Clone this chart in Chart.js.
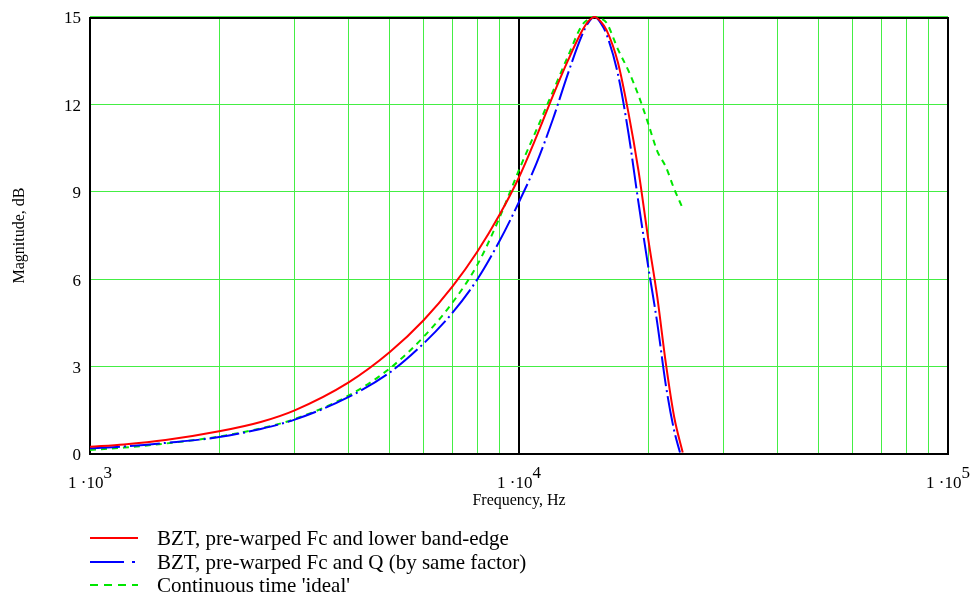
<!DOCTYPE html>
<html>
<head>
<meta charset="utf-8">
<script src="https://cdn.jsdelivr.net/npm/chart.js@4.4.1/dist/chart.umd.min.js"></script>
<style>
html,body{margin:0;padding:0;background:#fff;}
#wrap{position:relative;width:974px;height:600px;}
</style>
</head>
<body>
<div id="wrap"><canvas id="c" width="974" height="600"></canvas></div>
<script>
// ---- data ----
const freqHz = [1000,1200,1500,2000,2500,3000,4000,5000,6000,7000,8000,9000,10000,11000,12000,13000,14000,14500,15000,15500,16000,17000,18000,19000,20000,21000,22000,23000];
const redDb   = [0.25,0.33,0.48,0.78,1.1,1.5,2.45,3.5,4.6,5.75,6.95,8.2,9.5,10.92,12.3,13.5,14.5,14.85,15.0,14.85,14.55,13.45,11.7,9.7,7.4,5.4,3.1,1.27];
const blueDb  = [0.2,0.26,0.38,0.58,0.86,1.18,1.95,2.8,3.8,4.85,6.0,7.3,8.65,10.0,11.5,13.05,14.35,14.8,15.0,14.8,14.4,13.05,11.0,8.6,6.45,4.5,2.35,0.8];
const greenDb = [0.14,0.22,0.36,0.6,0.88,1.2,2.0,2.94,4.03,5.2,6.5,8.1,9.75,11.15,12.45,13.65,14.7,14.92,15.0,14.95,14.8,13.9,13.15,12.3,11.35,10.4,9.85,9.1];
const redEnd   = [24080, 0.05];
const blueEnd  = [23730, 0.05];
const greenEnd = [24000, 8.48];

const xGridValues = [1000,2000,3000,4000,5000,6000,7000,8000,9000,10000,20000,30000,40000,50000,60000,70000,80000,90000,100000];
const xLabelValues = [1000,10000,100000];
const yTickValues = [0,3,6,9,12,15];

const seriesNames = [
  "BZT, pre-warped Fc and lower band-edge",
  "BZT, pre-warped Fc and Q (by same factor)",
  "Continuous time 'ideal'"
];

function pts(ys, end){
  const a = freqHz.map((f,i)=>({x:f,y:ys[i]}));
  a.push({x:end[0], y:end[1]});
  return a;
}

const SERIF = "'Liberation Serif','DejaVu Serif',serif";
const RED = '#ff0000', BLUE = '#0000ff', GREEN = '#00e600';
const DASHES = [[], [30,4,2,4], [6,5]];
const LEGEND_DASHES = [[], [34,8,3,8], [8,6]];

const frameAndLabels = {
  id: 'frameAndLabels',
  beforeDatasetsDraw(chart){
    const {ctx, chartArea:a} = chart;
    ctx.save();
    ctx.strokeStyle = '#000';
    ctx.lineWidth = 2;
    ctx.strokeRect(a.left, a.top+1, a.right-a.left, a.bottom-a.top-1);
    ctx.strokeStyle = '#44ee44';
    ctx.lineWidth = 1;
    ctx.beginPath();
    ctx.moveTo(a.left, a.top - 0.5);
    ctx.lineTo(a.right, a.top - 0.5);
    ctx.stroke();
    ctx.restore();
  },
  afterDraw(chart){
    const {ctx, chartArea:a} = chart;
    const xs = chart.scales.x, ys = chart.scales.y;
    ctx.save();
    ctx.fillStyle = '#000';
    // y tick labels
    ctx.font = '17px ' + SERIF;
    ctx.textAlign = 'right';
    ctx.textBaseline = 'middle';
    yTickValues.forEach(v=>{
      ctx.fillText(String(v), a.left - 9, ys.getPixelForValue(v) + 2);
    });
    // x tick labels with superscript exponent
    ctx.textBaseline = 'alphabetic';
    ctx.textAlign = 'left';
    xLabelValues.forEach(v=>{
      const e = Math.round(Math.log10(v));
      const base = '1 \u00B710', ex = String(e);
      const wb = ctx.measureText(base).width, we = ctx.measureText(ex).width;
      const px = xs.getPixelForValue(v);
      const x0 = px - (wb+we)/2;
      ctx.fillText(base, x0, 488);
      ctx.fillText(ex, x0 + wb, 478);
    });
    // axis titles
    ctx.font = '16px ' + SERIF;
    ctx.textAlign = 'center';
    ctx.textBaseline = 'middle';
    ctx.fillText('Frequency, Hz', (a.left + a.right)/2, 501);
    ctx.save();
    ctx.translate(20, (a.top + a.bottom)/2);
    ctx.rotate(-Math.PI/2);
    ctx.fillText('Magnitude, dB', 0, 0);
    ctx.restore();
    // legend
    const colors = [RED, BLUE, GREEN];
    const rows = [538, 562, 585];
    ctx.font = '21px ' + SERIF;
    ctx.textAlign = 'left';
    seriesNames.forEach((n,i)=>{
      ctx.save();
      ctx.strokeStyle = colors[i];
      ctx.lineWidth = 2;
      ctx.setLineDash(LEGEND_DASHES[i]);
      ctx.beginPath();
      ctx.moveTo(90, rows[i]);
      ctx.lineTo(138, rows[i]);
      ctx.stroke();
      ctx.restore();
      ctx.fillStyle = '#000';
      ctx.fillText(n, 157, rows[i] + 1);
    });
    ctx.restore();
  }
};

new Chart(document.getElementById('c'), {
  type: 'line',
  data: {
    datasets: [
      {label: seriesNames[0], data: pts(redDb, redEnd), borderColor: RED, borderDash: DASHES[0]},
      {label: seriesNames[1], data: pts(blueDb, blueEnd), borderColor: BLUE, borderDash: DASHES[1]},
      {label: seriesNames[2], data: pts(greenDb, greenEnd), borderColor: GREEN, borderDash: DASHES[2]}
    ]
  },
  options: {
    responsive: false,
    animation: false,
    layout: {padding: {left: 90, top: 17, right: 26, bottom: 146}},
    elements: {
      line: {borderWidth: 2, cubicInterpolationMode: 'monotone', fill: false},
      point: {radius: 0, hoverRadius: 0}
    },
    datasets: {line: {clip: 4}},
    plugins: {legend: {display: false}, tooltip: {enabled: false}},
    scales: {
      x: {
        type: 'logarithmic', min: 1000, max: 100000,
        afterBuildTicks: s => { s.ticks = xGridValues.map(v=>({value:v})); },
        ticks: {display: false},
        border: {display: false},
        grid: {
          drawTicks: false,
          color: c => (c.tick && c.tick.value === 10000) ? '#000' : '#44ee44',
          lineWidth: c => (c.tick && c.tick.value === 10000) ? 2 : 1
        }
      },
      y: {
        type: 'linear', min: 0, max: 15,
        afterBuildTicks: s => { s.ticks = yTickValues.map(v=>({value:v})); },
        ticks: {display: false},
        border: {display: false},
        grid: {drawTicks: false, color: '#44ee44', lineWidth: 1}
      }
    }
  },
  plugins: [frameAndLabels]
});
</script>
</body>
</html>
